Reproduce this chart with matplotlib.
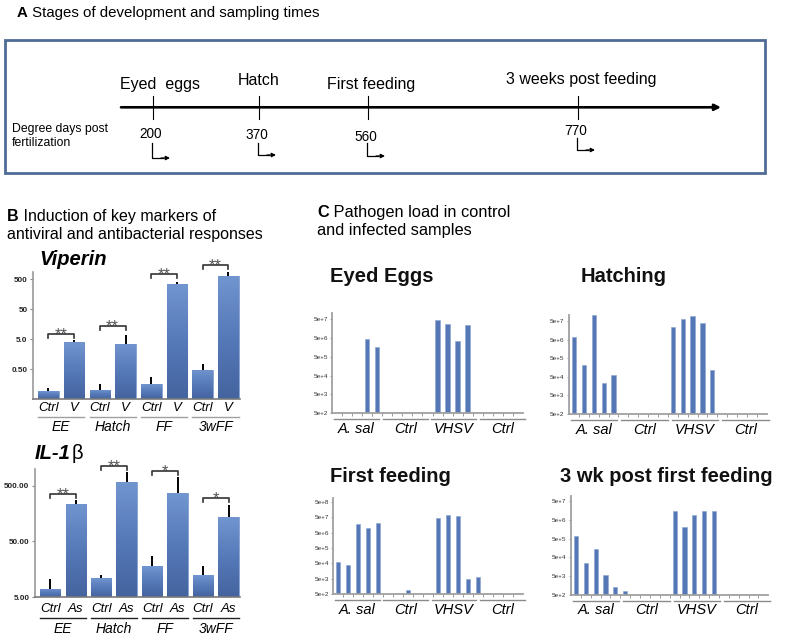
import numpy as np
import matplotlib
matplotlib.use("Agg")
import matplotlib.pyplot as plt
from matplotlib.patches import Rectangle
from matplotlib.colors import LinearSegmentedColormap
from matplotlib.transforms import blended_transform_factory

plt.rcParams['font.family'] = ['Liberation Sans', 'DejaVu Sans']

W, H = 787, 635

# ---- A: timeline
stages = ["Eyed  eggs", "Hatch", "First feeding", "3 weeks post feeding"]
degree_days = [200, 370, 560, 770]

# ---- B: relative expression (fold change), bar tops and upper error ends
pair_groups = ["EE", "Hatch", "FF", "3wFF"]
viperin_labels = ["Ctrl", "V"]
viperin_mean = [0.092, 3.9, 0.10, 3.5, 0.155, 340, 0.47, 644]
viperin_err = [0.12, 4.5, 0.155, 6.95, 0.265, 406, 0.72, 905]
viperin_sig = ["**", "**", "**", "**"]
viperin_bracket = [7.3, 13.6, 734, 1464]

il1b_labels = ["Ctrl", "As"]
il1b_mean = [7.0, 237, 10.8, 573, 18, 364, 12.4, 135]
il1b_err = [10.4, 275, 12.4, 889, 27.2, 705, 18, 221]
il1b_sig = ["**", "**", "*", "*"]
il1b_bracket = [353, 1124, 927, 303]

# ---- C: pathogen load per sample (0 = not detected)
load_groups = ["A. sal", "Ctrl", "VHSV", "Ctrl"]
load_titles = ["Eyed Eggs", "Hatching", "First feeding", "3 wk post first feeding"]
eyed_eggs = [0, 0, 0, 4.5e6, 1.6e6, 0, 0, 0, 0, 0,
             4.4e7, 2.9e7, 3.7e6, 2.4e7, 0, 0, 0, 0, 0]
hatching = [7.2e6, 2.07e5, 1.0e8, 2.4e4, 6.5e4, 0, 0, 0, 0, 0,
            2.4e7, 6.2e7, 9.6e7, 3.75e7, 1.16e5, 0, 0, 0, 0, 0]
first_feeding = [5.9e4, 4.0e4, 1.72e7, 9.5e6, 2.1e7, 0, 0, 1.0e3, 0, 0,
                 4.4e7, 6.6e7, 5.9e7, 4.7e3, 6.6e3, 0, 0, 0, 0]
three_wk = [7.1e5, 2.5e4, 1.4e5, 6.0e3, 1.33e3, 8.2e2, 0, 0, 0, 0,
            1.41e7, 2.0e6, 9.4e6, 1.47e7, 1.5e7, 0, 0, 0, 0, 0]

fig = plt.figure(figsize=(W / 100, H / 100), dpi=100)
boxes = {}


def px_axes(l, t, r, b):
    ax = fig.add_axes([l / W, 1 - b / H, (r - l) / W, (b - t) / H])
    boxes[ax] = (l, t, r, b)
    return ax


def below(ax, px):
    l, t, r, b = boxes[ax]
    return -px / (b - t)


bar_cmap = LinearSegmentedColormap.from_list("bar", ["#44649f", "#5679b8", "#7195cf"])
grad = np.linspace(0, 1, 64).reshape(-1, 1)


def expr_panel(ax, means, errs, labels, sig, brk, ylim, ticks, tlabels,
               tick_px, line_px, group_px, line_color):
    x = np.arange(len(means))
    xlim = (-0.6, 7.45)
    bars = ax.bar(x, np.array(means) - ylim[0], bottom=ylim[0], width=0.8,
                  color="#5579b8", edgecolor="#86a2d2", linewidth=0.6, zorder=2)
    ly0, ly1 = np.log10(ylim)
    for xi, m, p in zip(x, means, bars.patches):
        fx0 = (xi - 0.4 - xlim[0]) / (xlim[1] - xlim[0])
        fx1 = (xi + 0.4 - xlim[0]) / (xlim[1] - xlim[0])
        fy1 = (np.log10(m) - ly0) / (ly1 - ly0)
        im = ax.imshow(grad, extent=(fx0, fx1, 0, fy1), transform=ax.transAxes,
                       origin="lower", aspect="auto", cmap=bar_cmap, zorder=2.5)
        im.set_clip_path(p)
    ax.vlines(x, means, errs, color="black", lw=1.4, zorder=3)
    ax.set_yscale("log")
    ax.set_xlim(*xlim)
    ax.set_ylim(*ylim)
    ax.set_yticks(ticks, tlabels)
    ax.minorticks_off()
    ax.set_xticks([])
    ax.tick_params(axis="y", length=2, width=0.8, color="#888888", pad=2,
                   labelsize=5.8, labelcolor="#222222")
    for lab in ax.get_yticklabels():
        lab.set_fontweight("bold")
    for s in ["top", "right"]:
        ax.spines[s].set_visible(False)
    ax.spines["left"].set_color("#9a9a9a")
    ax.spines["bottom"].set_color("#7a7a7a")
    ax.spines["left"].set_linewidth(1.2)
    ax.spines["bottom"].set_linewidth(1.2)
    ax.set_facecolor("none")
    l, t, r, b = boxes[ax]
    decade_px = (b - t) / (ly1 - ly0)
    leg = 10 ** (4 / decade_px)
    tr = blended_transform_factory(ax.transData, ax.transAxes)
    for g, name in enumerate(pair_groups):
        x0, x1 = 2 * g, 2 * g + 1
        y = brk[g]
        ax.plot([x0, x0, x1, x1], [y / leg, y, y, y / leg], color="#333333",
                lw=1.2, clip_on=False, zorder=4)
        ax.annotate(sig[g], ((x0 + x1) / 2, y), xytext=(0, -3.6),
                    textcoords="offset points", ha="center", va="baseline",
                    fontsize=12, color="#555555", annotation_clip=False)
        for k, lab in enumerate(labels):
            ax.text(x0 + k, below(ax, tick_px), lab, transform=tr, ha="center",
                    va="center", fontsize=9.5, style="italic")
        ax.plot([x0 - 0.4, x1 + 0.4], [below(ax, line_px)] * 2, transform=tr,
                color=line_color, lw=1.0, clip_on=False)
        ax.text(x0 + 0.5, below(ax, group_px), name, transform=tr, ha="center",
                va="center", fontsize=10, style="italic")


def load_panel(ax, vals, ylim):
    n = len(vals)
    x = np.arange(n)
    v = np.array(vals, dtype=float)
    keep = v > 0
    ax.bar(x[keep], v[keep] - ylim[0], bottom=ylim[0], width=0.42,
           color="#5677b6", edgecolor="#8aa3cf", linewidth=0.4, zorder=2)
    ax.set_yscale("log")
    ax.set_xlim(-0.5, n - 0.5)
    ax.set_ylim(*ylim)
    top = int(np.floor(np.log10(ylim[1] / 5)))
    yt = [5 * 10.0 ** k for k in range(2, top + 1)]
    ax.set_yticks(yt, ["5e+%d" % k for k in range(2, top + 1)])
    ax.minorticks_off()
    ax.set_xticks(np.arange(n - 1) + 0.5, [])
    ax.tick_params(axis="both", length=1.8, width=0.7, color="#9a9a9a", pad=1.5,
                   labelsize=4.6, labelcolor="#333333")
    for s in ["top", "right"]:
        ax.spines[s].set_visible(False)
    for s in ["left", "bottom"]:
        ax.spines[s].set_color("#a0a0a0")
        ax.spines[s].set_linewidth(1.3)
    ax.set_facecolor("none")
    for g, name in enumerate(load_groups):
        f0 = g * 0.255 + 0.01
        f1 = f0 + 0.235
        ax.plot([f0, f1], [below(ax, 5.5)] * 2, transform=ax.transAxes,
                color="#8a8a8a", lw=1.0, clip_on=False)
        ax.text((f0 + f1) / 2, below(ax, 15.5), name, transform=ax.transAxes,
                ha="center", va="center", fontsize=10.5, style="italic")


# panel B
ax_vip = px_axes(33, 272, 240, 399)
expr_panel(ax_vip, viperin_mean, viperin_err, viperin_labels, viperin_sig,
           viperin_bracket, (0.05, 857), [0.5, 5, 50, 500],
           ["0.50", "5.0", "50", "500"], 9, 17.7, 27.7, "#a0a0a0")
ax_il = px_axes(35, 469, 240, 597)
expr_panel(ax_il, il1b_mean, il1b_err, il1b_labels, il1b_sig, il1b_bracket,
           (5, 1000), [5, 50, 500], ["5.00", "50.00", "500.00"],
           12, 20.7, 32.3, "#222222")

# panel C
load_boxes = [(332.3, 313.3, 522.7, 413.3), (569, 315, 766.7, 414),
              (333.3, 497.7, 522.7, 594.3), (571, 495.7, 768.3, 595)]
load_lims = [(500, 1.04e8), (500, 1.05e8), (500, 9.1e8), (500, 9.5e7)]
for bx, vals, lim in zip(load_boxes, [eyed_eggs, hatching, first_feeding, three_wk], load_lims):
    load_panel(px_axes(*bx), vals, lim)

# overlay in pixel coordinates for the text and the timeline
ov = fig.add_axes([0, 0, 1, 1], zorder=5)
ov.set_xlim(0, W)
ov.set_ylim(H, 0)
ov.axis("off")
rend = fig.canvas.get_renderer()


def lead_text(x, y, lead, rest, size):
    t = ov.text(x, y, lead, fontsize=size, fontweight="bold", va="baseline")
    w = t.get_window_extent(renderer=rend).width
    ov.text(x + w, y, " " + rest, fontsize=size, va="baseline")


# A
lead_text(17, 17, "A", "Stages of development and sampling times", 10.8)
ov.add_patch(Rectangle((5, 40), 760, 132.7, fill=False, ec="#4f6b96", lw=2.0))
tl_y = 107.3
ov.annotate("", xy=(721, tl_y), xytext=(121, tl_y),
            arrowprops=dict(arrowstyle="-|>", lw=1.9, color="black",
                            mutation_scale=9, shrinkA=0, shrinkB=0))
tick_x = [153, 259, 368, 578]
label_pos = [(120, 89, "left"), (259, 85, "center"), (371, 89, "center"), (581, 84, "center")]
num_y = [137.7, 139, 141, 135]
arrow_y = [(143, 158), (143, 155), (143, 156), (138, 150)]
for i, (st, dd) in enumerate(zip(stages, degree_days)):
    x = tick_x[i]
    ov.plot([x, x], [96, 119], color="black", lw=0.8)
    lx, ly, ha = label_pos[i]
    ov.text(lx, ly, st, fontsize=11.5, ha=ha, va="baseline")
    ov.text(x - 2, num_y[i], str(dd), fontsize=9.8, ha="center", va="baseline")
    y0, y1 = arrow_y[i]
    ov.plot([x - 1, x - 1, x + 10], [y0, y1, y1], color="black", lw=0.9)
    ov.annotate("", xy=(x + 17, y1), xytext=(x + 8, y1),
                arrowprops=dict(arrowstyle="-|>", lw=0.9, color="black",
                                mutation_scale=6, shrinkA=0, shrinkB=0))
ov.text(12, 123, "Degree days post\nfertilization", fontsize=8.8, va="top",
        linespacing=1.25)

# B
lead_text(7.3, 221, "B", "Induction of key markers of", 11.5)
ov.text(7.3, 239.3, "antiviral and antibacterial responses", fontsize=11.5, va="baseline")
ov.text(39.3, 265, "Viperin", fontsize=14.5, fontweight="bold", style="italic", va="baseline")
t_il = ov.text(35, 459, "IL-1", fontsize=14.5, fontweight="bold", style="italic", va="baseline")
w_il = t_il.get_window_extent(renderer=rend).width
ov.text(35 + w_il + 0.3, 459, "\u03b2", fontsize=14.5, va="baseline")

# C
lead_text(317.3, 216.7, "C", "Pathogen load in control", 11.75)
ov.text(317.3, 235, "and infected samples", fontsize=11.75, va="baseline")
title_pos = [(330, 282), (581, 282), (330, 481.7), (560, 481.7)]
for (tx, ty), name in zip(title_pos, load_titles):
    ov.text(tx, ty, name, fontsize=14.5, fontweight="bold", va="baseline", color="#111111")

fig.savefig("out.png", dpi=100)
